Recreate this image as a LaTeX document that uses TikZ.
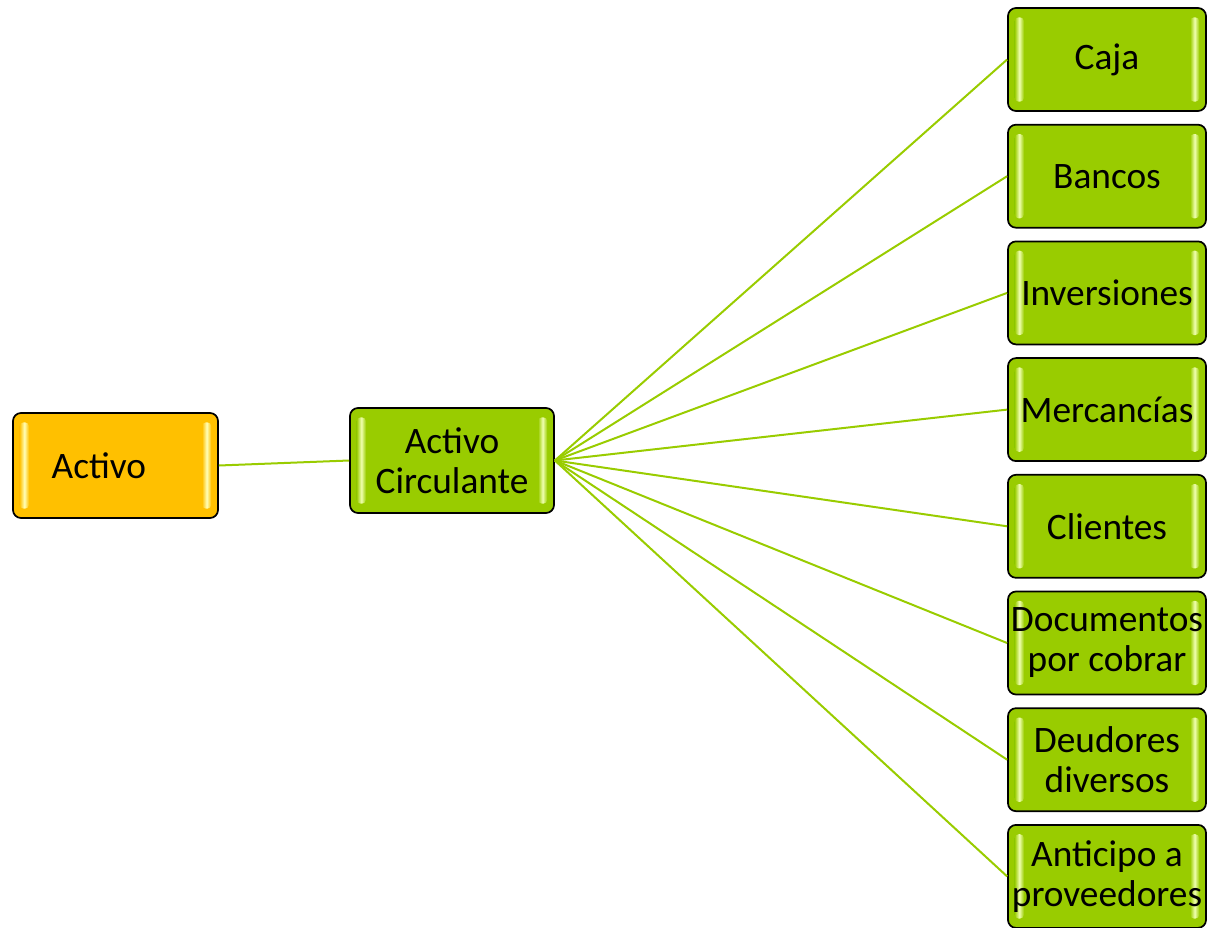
\documentclass[tikz,border=0pt]{standalone}
\usepackage{fontspec}
\setmainfont{Carlito}
\usetikzlibrary{calc}
\definecolor{boxgreen}{HTML}{99CC00}
\definecolor{boxorange}{HTML}{FFC000}
\definecolor{lightgreen}{HTML}{F0FFB0}
\definecolor{lightorange}{HTML}{FFFFB8}
\tikzset{
  bevel/.style 2 args={draw=black, line width=1.3pt, fill=#1, rounded corners=6pt,
    font=\fontsize{28pt}{30pt}\selectfont, align=center, inner sep=0pt,
    path picture={
      \path (path picture bounding box.west);
      \shade[left color=#1, right color=#1, middle color=#2, rounded corners=3pt]
        ($(path picture bounding box.north west)+(5pt,-7pt)$) rectangle
        ($(path picture bounding box.south west)+(12pt,7pt)$);
      \shade[left color=#1, right color=#1, middle color=#2, rounded corners=3pt]
        ($(path picture bounding box.north east)+(-12pt,-7pt)$) rectangle
        ($(path picture bounding box.south east)+(-5pt,7pt)$);
    }},
  greenbox/.style={bevel={boxgreen}{lightgreen}, minimum width=148.5pt, minimum height=77.25pt},
  conn/.style={draw=boxgreen, line width=1.5pt}
}
\begin{document}
\begin{tikzpicture}[x=0.75pt,y=-0.75pt]
  \useasboundingbox (0,0) rectangle (1207,928);

  \node[bevel={boxorange}{lightorange}, minimum height=78.75pt, align=left,
        inner xsep=29pt, text width=95.75pt] (activo) at (115.5,465.5) {Activo};
  \node[bevel={boxgreen}{lightgreen}, minimum width=153pt, minimum height=78.75pt]
        (circ) at (452,460.5) {Activo\\Circulante};

  \node[greenbox] (caja)  at (1107,59.5)  {Caja};
  \node[greenbox] (bancos) at (1107,176.2) {Bancos};
  \node[greenbox] (inver) at (1107,292.9) {Inversiones};
  \node[greenbox] (merc)  at (1107,409.6) {Mercancías};
  \node[greenbox] (clien) at (1107,526.3) {Clientes};
  \node[greenbox] (docs)  at (1107,643)   {Documentos\\por cobrar};
  \node[greenbox] (deud)  at (1107,759.7) {Deudores\\diversos};
  \node[greenbox] (antic) at (1107,876.4) {Anticipo a\\proveedores};

  \draw[conn] (activo.east) -- (circ.west);
  \foreach \n in {caja,bancos,inver,merc,clien,docs,deud,antic}
    \draw[conn] (circ.east) -- (\n.west);
\end{tikzpicture}
\end{document}
